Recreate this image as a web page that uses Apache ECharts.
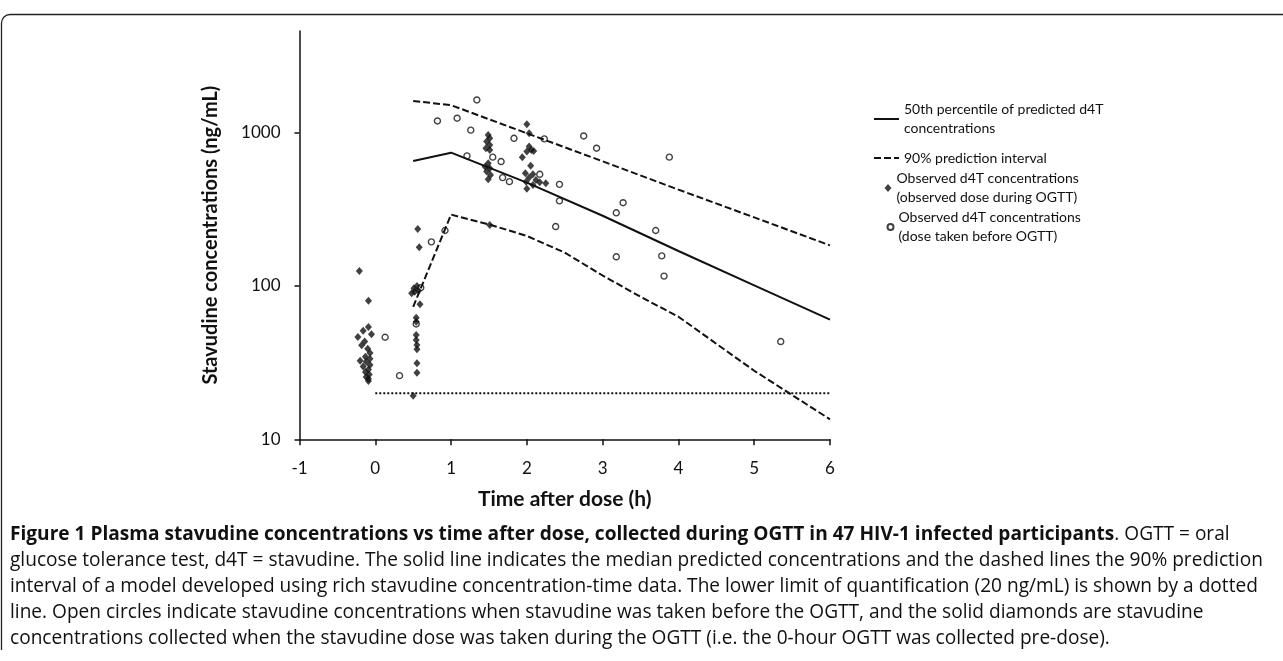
<!DOCTYPE html>
<html><head><meta charset="utf-8">
<script src="https://cdn.jsdelivr.net/npm/echarts@6/dist/echarts.min.js"></script>
<style>html,body{margin:0;padding:0;background:#fff}#c{width:1283px;height:661px}</style>
</head><body><div id="c"></div>
<script>
// ---- data ----
const medianLine = [[0.5,654],[1,740],[2,472],[3,287],[4,169],[5,101],[6,60.4]];
const upperPI = [[0.5,1610],[1,1510],[2,990],[3,650],[4,425],[5,280],[6,184]];
const lowerPI = [[0.5,73],[1,292],[1.5,252],[2,212],[2.5,165],[3,117],[3.5,85],[4,63],[5,28],[6,13.5]];
const lloqLine = [[0,20],[6,20]];
const obsDuring = [
  [-0.21,125],[-0.09,80],[-0.09,54],[-0.16,51],[-0.05,48.5],[-0.23,46.5],[-0.14,43.5],[-0.18,41],
  [-0.1,39],[-0.07,36.5],[-0.13,34.5],[-0.07,33.5],[-0.2,32.5],[-0.12,32],[-0.07,30.5],[-0.16,29.8],
  [-0.09,28.5],[-0.13,27.5],[-0.08,26.5],[-0.12,25.5],[-0.09,24.8],[-0.09,24],
  [0.5,19.2],[0.55,27.2],[0.55,31.3],[0.55,38.6],[0.55,41.2],[0.54,44.5],[0.54,47.9],[0.54,58.5],
  [0.54,62],[0.59,76],[0.48,89.6],[0.51,96.6],[0.55,100],[0.57,93],[0.52,91.8],[0.56,235],[0.58,179],
  [1.49,966],[1.51,918],[1.47,874],[1.51,831],[1.46,791],[1.51,771],[1.49,631],[1.45,600],[1.51,586],
  [1.47,557],[1.52,530],[1.49,497],[1.51,250],
  [2.0,1135],[2.03,991],[2.03,811],[2.06,771],[2.0,752],[2.09,760],[1.94,692],[2.05,609],[1.98,543],
  [2.08,535],[2.03,509],[2.12,491],[1.99,479],[2.17,475],[2.25,468],[2.0,430],[2.08,456]
];
const obsBefore = [
  [0.13,46.3],[0.32,26],[0.54,56.5],[0.6,97.5],[0.74,194],[0.92,230],[0.82,1191],[1.08,1242],
  [1.34,1633],[1.26,1038],[1.21,705],[1.83,918],[1.55,692],[1.66,648],[1.68,509],[1.77,479],
  [2.23,910],[2.75,951],[2.92,791],[3.88,692],[2.17,535],[2.43,460],[2.43,359],[2.38,244],
  [3.27,349],[3.18,300],[3.70,230],[3.18,155],[3.78,157],[3.81,116],[5.35,43.4]
];
const yTickValues = [10, 100, 1000];
const xMin = -1, xMax = 6, xStep = 1;
const yMin = 10, yMax = 4600;
const seriesNames = [
  '50th percentile of predicted d4T\nconcentrations',
  '90% prediction interval',
  'Observed d4T concentrations\n(observed dose during OGTT)',
  'Observed d4T concentrations\n(dose taken before OGTT)'
];
const xAxisTitle = 'Time after dose (h)';
const yAxisTitle = 'Stavudine concentrations (ng/mL)';
const captionBold = 'Figure 1 Plasma stavudine concentrations vs time after dose, collected during OGTT in 47 HIV-1 infected participants';
const captionLines = [
  '. OGTT = oral',
  'glucose tolerance test, d4T = stavudine. The solid line indicates the median predicted concentrations and the dashed lines the 90% prediction',
  'interval of a model developed using rich stavudine concentration-time data. The lower limit of quantification (20 ng/mL) is shown by a dotted',
  'line. Open circles indicate stavudine concentrations when stavudine was taken before the OGTT, and the solid diamonds are stavudine',
  'concentrations collected when the stavudine dose was taken during the OGTT (i.e. the 0-hour OGTT was collected pre-dose).'
];

// ---- chart ----
const FONT = 'Lato';
const CAPFONT = 'Open Sans';
const CAPSIZE = 19.1;
const INK = '#111';
const chart = echarts.init(document.getElementById('c'), null, {renderer: 'canvas'});

const LH = 19;
function legendFor(name, left, top, iconW, iconH, gap, twoLine, hideSymbol) {
  const lg = {
    data: [name], orient: 'vertical', left: left, top: top, padding: 0,
    itemWidth: iconW, itemHeight: iconH, itemGap: 0, itemTextGap: gap,
    selectedMode: false,
    textStyle: {fontFamily: FONT, fontSize: 14, color: INK, lineHeight: LH,
      padding: twoLine ? [LH, 0, 0, 0] : 0}
  };
  if (hideSymbol) lg.itemStyle = {opacity: 0};
  return lg;
}

const captionText = '{b|' + captionBold + '}{n|' + captionLines[0] + '}\n' +
  captionLines.slice(1).map(s => '{n|' + s + '}').join('\n');

chart.setOption({
  animation: false,
  backgroundColor: '#fff',
  title: {
    text: captionText, left: 10, top: 522, padding: 0,
    textStyle: {
      fontFamily: CAPFONT, fontSize: CAPSIZE, fontWeight: 'normal', color: INK, lineHeight: 26,
      rich: {
        b: {fontFamily: CAPFONT, fontSize: CAPSIZE, fontWeight: 'bold', color: INK, lineHeight: 26},
        n: {fontFamily: CAPFONT, fontSize: CAPSIZE, fontWeight: 'normal', color: INK, lineHeight: 26}
      }
    }
  },
  graphic: [
    {type: 'line', silent: true, shape: {x1: 1.5, y1: 650, x2: 1.5, y2: 23},
      style: {stroke: '#222', lineWidth: 1.3}},
    {type: 'arc', silent: true, shape: {cx: 10, cy: 23, r: 8.5, startAngle: Math.PI, endAngle: Math.PI * 1.5},
      style: {stroke: '#222', lineWidth: 1.3, fill: 'none'}},
    {type: 'line', silent: true, shape: {x1: 10, y1: 14.5, x2: 1290, y2: 14.5},
      style: {stroke: '#222', lineWidth: 1.3}}
  ],
  legend: [
    legendFor(seriesNames[0], 873, 119 - LH * 1.5, 25, 2, 4, true, true),
    legendFor(seriesNames[1], 873, 158 - LH / 2, 25, 2, 4, false, true),
    legendFor(seriesNames[2], 884.5, 188 - LH * 1.5, 7, 8, 15.5, true, false),
    legendFor(seriesNames[3], 885, 227 - LH * 1.5, 6, 6, 16, true, false)
  ],
  grid: {left: 299.5, top: 31, right: 453, bottom: 221.7},
  xAxis: {
    type: 'value', min: xMin, max: xMax, interval: xStep,
    name: xAxisTitle, nameLocation: 'middle', nameGap: 49,
    nameTextStyle: {fontFamily: FONT, fontSize: 21, fontWeight: 'bold', color: INK},
    axisLine: {onZero: false, lineStyle: {color: INK, width: 1.5}},
    axisTick: {show: true, length: 6, lineStyle: {color: INK, width: 1.5}},
    axisLabel: {fontFamily: FONT, fontSize: 17, color: INK, margin: 21},
    splitLine: {show: false}
  },
  yAxis: {
    type: 'log', logBase: 10, min: yMin, max: yMax,
    name: yAxisTitle, nameLocation: 'middle', nameGap: 79,
    nameTextStyle: {fontFamily: FONT, fontSize: 20, fontWeight: 'bold', color: INK},
    axisLine: {show: true, onZero: false, lineStyle: {color: INK, width: 1.5}},
    axisTick: {show: true, length: 5, customValues: yTickValues, lineStyle: {color: INK, width: 1.5}},
    axisLabel: {fontFamily: FONT, fontSize: 17, color: INK, margin: 19, customValues: yTickValues,
      formatter: v => String(Math.round(v))},
    splitLine: {show: false}, minorTick: {show: false}
  },
  series: [
    {name: seriesNames[0], type: 'line', data: medianLine, symbol: 'none', z: 3,
      lineStyle: {color: INK, width: 2, type: 'solid'}, itemStyle: {color: INK}},
    {name: seriesNames[1], type: 'line', data: upperPI, symbol: 'none', z: 3,
      lineStyle: {color: INK, width: 2, type: [7, 3]}, itemStyle: {color: INK}},
    {name: seriesNames[1], type: 'line', data: lowerPI, symbol: 'none', z: 3,
      lineStyle: {color: INK, width: 2, type: [7, 3]}, itemStyle: {color: INK}},
    {name: 'LLOQ', type: 'line', data: lloqLine, symbol: 'none', z: 3,
      lineStyle: {color: INK, width: 2, type: [2, 2]}, itemStyle: {color: INK}},
    {name: seriesNames[2], type: 'scatter', data: obsDuring, symbol: 'diamond', symbolSize: [7, 8], z: 4,
      itemStyle: {color: INK, borderWidth: 0}},
    {name: seriesNames[3], type: 'scatter', data: obsBefore, symbol: 'circle', symbolSize: 6, z: 4,
      itemStyle: {color: 'none', borderColor: INK, borderWidth: 1.4}}
  ]
});
</script></body></html>
